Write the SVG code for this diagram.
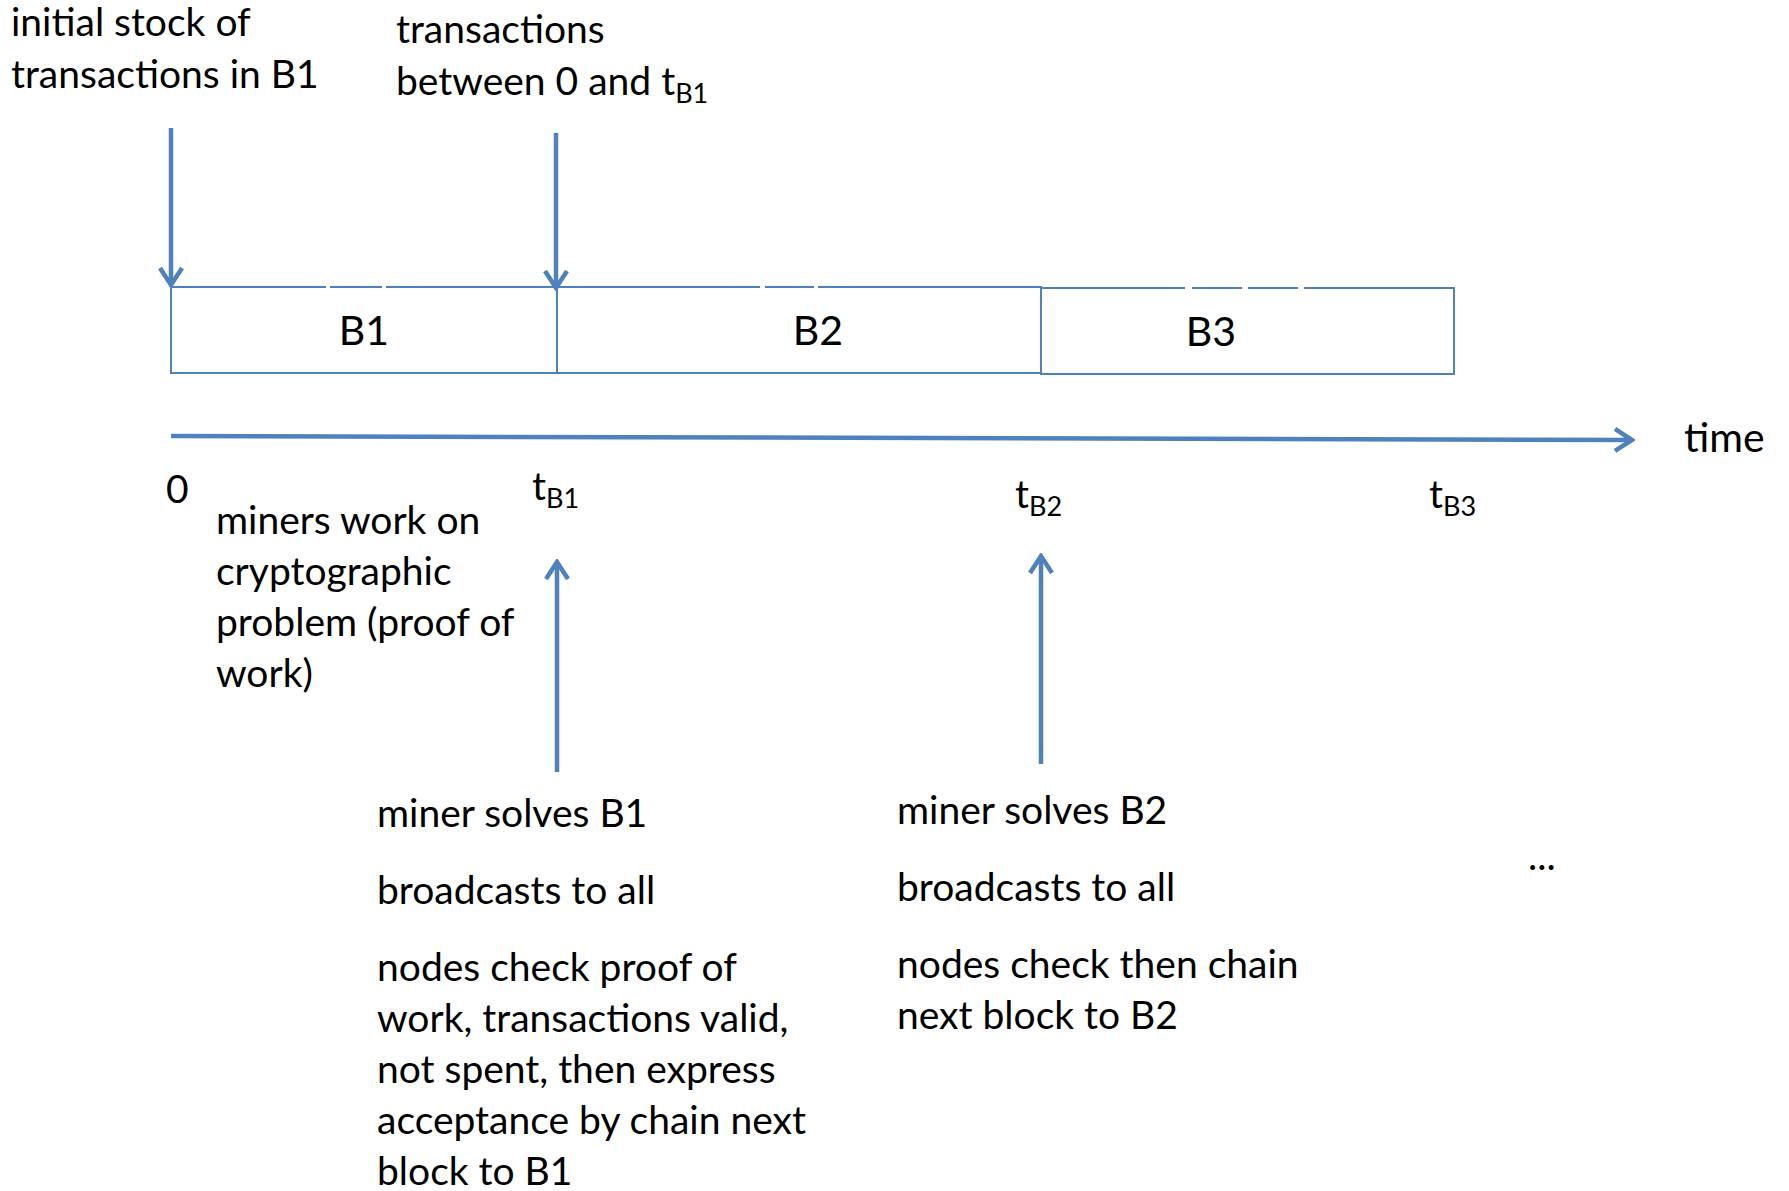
<svg xmlns="http://www.w3.org/2000/svg" width="1789" height="1191" viewBox="0 0 1789 1191">
<style>
text{font-family:Lato,"Liberation Sans",sans-serif;font-size:39px;fill:#000}
.sub{font-size:27px}
.big{font-size:41px}
.blk{fill:#fff;stroke:#4F81BD;stroke-width:2}
.conn{stroke:#4F81BD;stroke-width:4.5;fill:none}
.gap{stroke:#fff;stroke-width:3}
</style>
<defs>
<marker id="ah" viewBox="0 0 22 26" refX="19" refY="13" markerWidth="22" markerHeight="26" markerUnits="userSpaceOnUse" orient="auto">
<path d="M2,2 L19,13 L2,24" fill="none" stroke="#4F81BD" stroke-width="4.5"/>
</marker>
</defs>
<g id="label-initial">
<text x="11" y="36">initial stock of</text>
<text x="11" y="88">transactions in B1</text>
</g>
<g id="label-between">
<text x="396" y="43">transactions</text>
<text x="396" y="95">between 0 and t<tspan class="sub" dy="8">B1</tspan></text>
</g>
<g id="B1">
<rect class="blk" x="171" y="287" width="386" height="86"/>
<line class="gap" x1="326" y1="287" x2="330" y2="287"/>
<line class="gap" x1="382" y1="287" x2="386" y2="287"/>
<text class="big" x="364" y="345" text-anchor="middle">B1</text>
</g>
<g id="B2">
<rect class="blk" x="557" y="287" width="484" height="86"/>
<line class="gap" x1="760" y1="287" x2="765" y2="287"/>
<line class="gap" x1="814" y1="287" x2="818" y2="287"/>
<text class="big" x="818" y="345" text-anchor="middle">B2</text>
</g>
<g id="B3">
<rect class="blk" x="1041" y="288" width="413" height="86"/>
<line class="gap" x1="1185" y1="288" x2="1192" y2="288"/>
<line class="gap" x1="1242" y1="288" x2="1248" y2="288"/>
<line class="gap" x1="1298" y1="288" x2="1304" y2="288"/>
<text class="big" x="1211" y="346" text-anchor="middle">B3</text>
</g>
<g id="axis-labels">
<text class="big" x="1684" y="452">time</text>
<text x="166" y="503">0</text>
<text x="532" y="500">t<tspan class="sub" dy="8">B1</tspan></text>
<text x="1015" y="508">t<tspan class="sub" dy="8">B2</tspan></text>
<text x="1429" y="508">t<tspan class="sub" dy="8">B3</tspan></text>
</g>
<g id="label-miners">
<text x="216" y="534">miners work on</text>
<text x="216" y="585">cryptographic</text>
<text x="216" y="636">problem (proof of</text>
<text x="216" y="687">work)</text>
</g>
<g id="label-solves-B1">
<text x="377" y="827">miner solves B1</text>
<text x="377" y="904">broadcasts to all</text>
<text x="377" y="981">nodes check proof of</text>
<text x="377" y="1032">work, transactions valid,</text>
<text x="377" y="1083">not spent, then express</text>
<text x="377" y="1134">acceptance by chain next</text>
<text x="377" y="1185">block to B1</text>
</g>
<g id="label-solves-B2">
<text x="897" y="824">miner solves B2</text>
<text x="897" y="901">broadcasts to all</text>
<text x="897" y="978">nodes check then chain</text>
<text x="897" y="1029">next block to B2</text>
</g>
<g id="ellipsis">
<text x="1528" y="870">...</text>
</g>
<g id="connectors">
<line class="conn" x1="171" y1="128" x2="171" y2="285" marker-end="url(#ah)"/>
<line class="conn" x1="556" y1="133" x2="556" y2="288" marker-end="url(#ah)"/>
<line class="conn" x1="171" y1="436" x2="1632" y2="440" stroke-width="5" marker-end="url(#ah)"/>
<line class="conn" x1="557" y1="772" x2="557" y2="562" marker-end="url(#ah)"/>
<line class="conn" x1="1041" y1="764" x2="1041" y2="556" marker-end="url(#ah)"/>
</g>
</svg>
